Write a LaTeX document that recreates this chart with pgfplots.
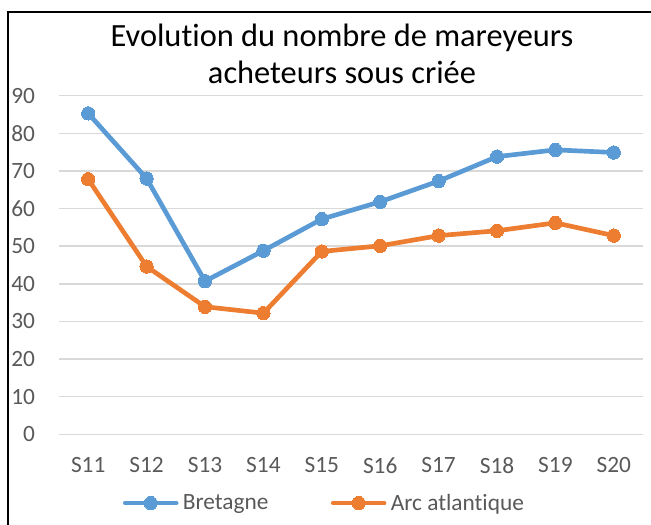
\documentclass[border=0pt]{standalone}
\usepackage{fontspec}
\setmainfont{Carlito}[Ligatures={NoCommon}]
\usepackage{pgfplots}
\pgfplotsset{compat=1.18}
\definecolor{cBlue}{HTML}{5B9BD5}
\definecolor{cOrange}{HTML}{ED7D31}
\definecolor{cGrid}{HTML}{D9D9D9}
\definecolor{cText}{HTML}{595959}
\begin{document}
\begin{tikzpicture}
\useasboundingbox (0pt,0pt) rectangle (488.25pt,393.75pt);
\draw[line width=1.5pt,black] (6.2pt,-1pt) -- (6.2pt,384.75pt) -- (489pt,384.75pt);
\node[anchor=base,font=\fontsize{24.3}{29}\selectfont,inner sep=0pt] at (256.5pt,358.5pt) {Evolution du nombre de mareyeurs};
\node[anchor=base,font=\fontsize{24.3}{29}\selectfont,inner sep=0pt] at (256.5pt,330.75pt) {acheteurs sous criée};
\begin{axis}[
  at={(44.25pt,68.03pt)}, anchor=south west,
  scale only axis, width=438pt, height=253.95pt,
  xmin=-0.5, xmax=9.5, ymin=0, ymax=90,
  ytick={0,10,...,90}, xtick={0,...,9},
  xticklabels={S11,S12,S13,S14,S15,S16,S17,S18,S19,S20},
  ymajorgrids, grid style={cGrid, line width=1.1pt},
  axis line style={draw=none},
  major tick length=0pt,
  tick label style={font=\fontsize{17.5}{21}\selectfont, text=cText, inner sep=0pt},
  yticklabel style={anchor=east, xshift=-17.8pt},
  xticklabel style={anchor=north, yshift=-17.4pt},
  /pgf/number format/assume math mode=true,
  clip=false,
  legend columns=2,
  legend style={at={(axis description cs:0.109,-0.203)}, anchor=west, draw=none, fill=none, inner sep=0pt,
    font=\fontsize{17.5}{21}\selectfont, text=cText, nodes={inner sep=0pt},
    /tikz/every odd column/.append style={column sep=3.3pt},
    /tikz/every even column/.append style={column sep=46.8pt}},
  legend image code/.code={\draw[mark repeat=2,mark phase=2,#1] plot coordinates {(0pt,0pt) (19.1pt,0pt) (38.2pt,0pt)};},
  every axis plot/.append style={line width=3.5pt, line cap=round, line join=round, mark=*, mark size=5pt},
]
\addplot[color=cBlue, mark options={fill=cBlue, draw=cBlue, line width=0pt}] coordinates {
(0,85.3) (1,68.0) (2,40.7) (3,48.8) (4,57.2) (5,61.8) (6,67.3) (7,73.8) (8,75.6) (9,74.9)};
\addlegendentry{Bretagne}
\addplot[color=cOrange, mark options={fill=cOrange, draw=cOrange, line width=0pt}] coordinates {
(0,67.8) (1,44.6) (2,33.9) (3,32.2) (4,48.6) (5,50.1) (6,52.8) (7,54.1) (8,56.2) (9,52.8)};
\addlegendentry{Arc atlantique}
\end{axis}
\end{tikzpicture}
\end{document}
